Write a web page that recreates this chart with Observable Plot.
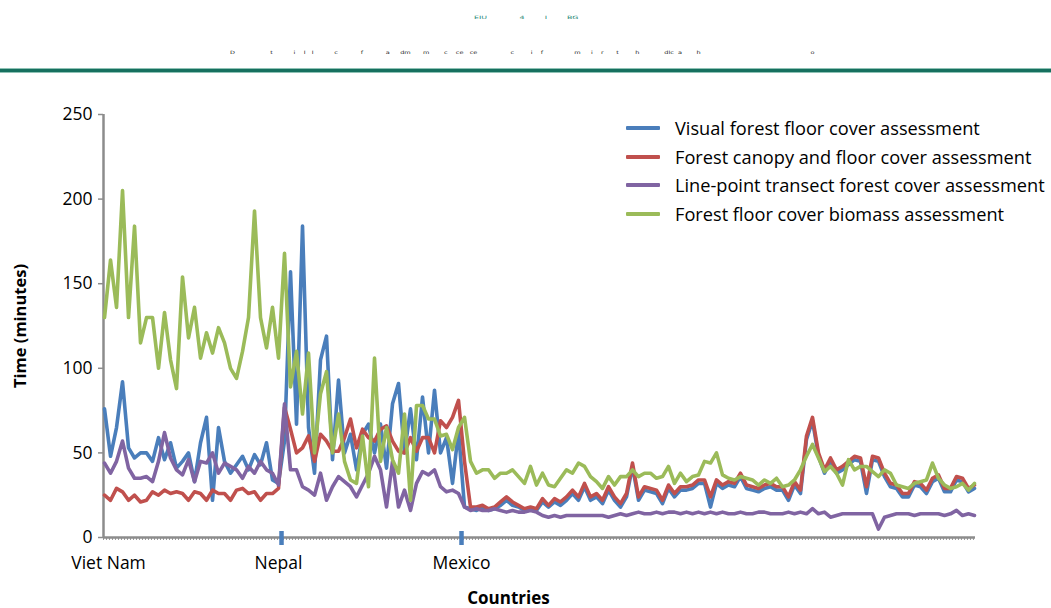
<!DOCTYPE html>
<html>
<head>
<meta charset="utf-8">
<script src="https://cdn.jsdelivr.net/npm/d3@7"></script>
<script src="https://cdn.jsdelivr.net/npm/@observablehq/plot@0.6"></script>
<style>
  html, body { margin: 0; padding: 0; background: #fff; }
  #wrap { position: relative; width: 1051px; height: 608px; overflow: hidden; font-family: "Open Sans", sans-serif; }
  #chart { position: absolute; left: 0; top: 0; }
  .hdr { position: absolute; font-size: 4.5px; white-space: pre; font-family: "DejaVu Sans", sans-serif; transform-origin: left top; }
  #rule { position: absolute; left: 0; top: 69px; width: 1051px; height: 3px; background: #16705f; box-shadow: 0 -1px 0 #8fc2b5, 0 1px 0 #8fc2b5; }
  #legend { position: absolute; left: 626px; top: 114px; font-size: 18.2px; color: #000; }
  .row { position: relative; height: 28.5px; line-height: 28.5px; white-space: nowrap; }
  .sw { position: absolute; left: 0; top: 12px; width: 34px; height: 4px; border-radius: 1px; }
  .lab { position: absolute; left: 49px; top: 0; }
</style>
</head>
<body>
<div id="wrap">
  <div id="chart"></div>
  <div class="hdr" style="left:474px;top:15px;color:#2a8a78;transform:scaleX(1.75);">EIU             4        I        BG</div>
  <div class="hdr" style="left:230px;top:50px;color:#222;transform:scaleX(1.45);">D                 t          i    l   l          c           f           a     dm      m       c    ce   ce                c        i    f               m     i    r      t        h            dlc  a       h                                                     o</div>
  <div id="rule"></div>
  <div id="legend"></div>
</div>
<script>
// Series names and colours
const seriesNames = [
  "Visual forest floor cover assessment",
  "Forest canopy and floor cover assessment",
  "Line-point transect forest cover assessment",
  "Forest floor cover biomass assessment"
];
const seriesColors = ["#4a7ebb", "#c0504d", "#8064a2", "#9bbb59"];

// Country groups: label and category index where the group starts
const countries = ["Viet Nam", "Nepal", "Mexico"];
const countryStart = [0, 30, 60];

// Y axis ticks
const yTicks = [0, 50, 100, 150, 200, 250];

const visual = [
  76,48,65,92,53,47,50,50,45,59, 46,56,41,45,50,33,56,71,22,65,
  45,38,43,48,40,49,43,56,34,32, 57,157,67,184,65,38,105,119,46,93,
  50,61,40,61,67,50,67,41,79,91, 50,76,46,83,50,87,50,59,32,63,
  18,17,16,18,16,17,19,22,19,18, 16,17,16,21,18,21,19,22,26,22,
  30,22,24,20,28,22,18,24,42,22, 28,27,26,20,29,24,28,28,29,32,
  32,18,32,29,31,30,36,29,28,27, 29,30,28,28,22,31,26,58,69,48,
  38,45,38,40,43,46,45,26,46,45, 36,30,29,24,24,31,30,26,33,35,
  27,27,34,33,27,29
];
const canopy = [
  25,22,29,27,22,25,21,22,27,25, 28,26,27,26,22,27,26,22,28,26,
  26,22,28,29,26,27,22,26,26,29, 77,64,50,53,60,45,61,57,51,51,
  59,70,53,64,59,57,64,66,57,51, 50,59,51,59,59,50,69,65,71,81,
  45,18,18,19,17,18,21,24,21,19, 17,18,17,23,19,23,21,24,28,24,
  32,24,26,22,30,24,20,26,44,24, 30,29,28,22,31,26,30,30,31,34,
  34,24,34,31,33,32,38,31,30,29, 31,32,30,30,24,33,28,60,71,50,
  40,47,40,42,45,48,47,30,48,47, 38,32,31,26,26,33,32,28,35,37,
  29,29,36,35,29,31
];
const linePoint = [
  44,38,45,57,41,35,35,36,33,45, 62,47,40,37,46,33,45,44,50,38,
  44,42,40,35,42,38,45,40,38,31, 79,40,40,30,28,25,38,22,30,36,
  33,30,24,31,38,48,40,18,45,18, 28,16,32,39,37,40,30,27,28,26,
  18,16,17,16,16,17,16,15,16,15, 15,16,15,13,12,13,12,13,13,13,
  13,13,13,13,12,13,14,13,14,15, 14,14,15,14,15,15,14,15,14,15,
  14,15,14,15,14,14,15,14,14,15, 15,14,14,14,15,14,15,14,17,14,
  15,12,13,14,14,14,14,14,14,5, 12,13,14,14,14,13,14,14,14,14,
  13,14,16,13,14,13
];
const biomass = [
  130,164,136,205,130,184,115,130,130,100, 133,105,88,154,118,136,106,121,109,124,
  115,100,94,110,130,193,130,112,136,106, 168,89,110,73,109,50,85,98,50,73,
  45,34,32,60,30,106,45,65,46,38, 73,22,78,78,70,70,60,61,52,65,
  71,45,38,40,40,35,38,38,40,36, 32,42,31,38,31,30,35,40,38,44,
  42,36,33,29,36,31,36,36,40,36, 38,38,35,36,42,32,38,33,36,37,
  45,44,50,37,35,34,36,35,34,31, 34,32,35,30,31,34,40,48,55,47,
  39,42,38,31,46,40,42,42,39,36, 40,38,31,30,29,32,33,34,44,35,
  31,29,30,32,28,32
];

const seriesValues = [visual, canopy, linePoint, biomass];
const nCat = visual.length;

// Long table built from the arrays
const table = [];
seriesValues.forEach((vals, s) => {
  vals.forEach((v, i) => table.push({ series: seriesNames[s], i, v }));
});

const pxPerUnit = 423 / 250;
const u = 1 / pxPerUnit; // one pixel in y units
const pxPerCat = 6;      // one category step in pixels
const lo = -0.17, hi = nCat - 1 + 0.17;
const minorTicks = d3.range(lo, hi + 0.01, 0.5);
const labelNudge = [7, -3, 0]; // pixel nudges of the country labels

const chart = Plot.plot({
  width: 1051,
  height: 608,
  marginTop: 114,
  marginBottom: 71,
  marginLeft: 103,
  marginRight: 76,
  style: { fontFamily: "'Open Sans', sans-serif", fontSize: "17.5px", background: "transparent" },
  x: { domain: [lo, hi], axis: null },
  y: { domain: [0, 250], axis: null },
  color: { domain: seriesNames, range: seriesColors },
  marks: [
    // Y axis
    Plot.axisY({ ticks: yTicks, tickSize: 5, stroke: "#8c8c8c", strokeWidth: 1.5, tickPadding: 6, fontSize: 17.5, fill: "#000", label: null }),
    Plot.ruleX([lo], { stroke: "#8c8c8c", strokeWidth: 2.5 }),
    // minor category ticks
    Plot.axisX({ ticks: minorTicks, tickSize: 3, stroke: "#9a9a9a", strokeWidth: 1, tickFormat: () => "", label: null }),
    Plot.ruleY([0], { stroke: "#8c8c8c", strokeWidth: 2.5 }),
    // lines
    Plot.line(table, { x: "i", y: "v", z: "series", stroke: "series", strokeWidth: 3.6, strokeLinejoin: "round", strokeLinecap: "round" }),
    // group separator ticks
    Plot.ruleX(countryStart.slice(1), { x: d => d - 0.5, y1: -8 * u, y2: 6 * u, stroke: "#4a7ebb", strokeWidth: 4.5 }),
    // country labels
    Plot.text(countries, {
      x: (d, j) => countryStart[j] - 0.5 + labelNudge[j] / pxPerCat,
      y: () => -26 * u,
      lineAnchor: "middle", textAnchor: "middle", fontSize: 17.5, fill: "#000", text: d => d
    }),
    // axis titles
    Plot.text(["Time (minutes)"], { frameAnchor: "left", textAnchor: "middle", lineAnchor: "middle", dx: -83, rotate: -90, fontSize: 16.5, fontWeight: "bold", fill: "#000" }),
    Plot.text(["Countries"], { frameAnchor: "bottom", lineAnchor: "middle", dx: -31, dy: 61, fontSize: 17, fontWeight: "bold", fill: "#000" })
  ]
});
document.getElementById("chart").appendChild(chart);

// Legend
const legend = document.getElementById("legend");
seriesNames.forEach((name, s) => {
  const row = document.createElement("div");
  row.className = "row";
  row.innerHTML = `<span class="sw" style="background:${seriesColors[s]}"></span><span class="lab">${name}</span>`;
  legend.appendChild(row);
});
</script>
</body>
</html>
